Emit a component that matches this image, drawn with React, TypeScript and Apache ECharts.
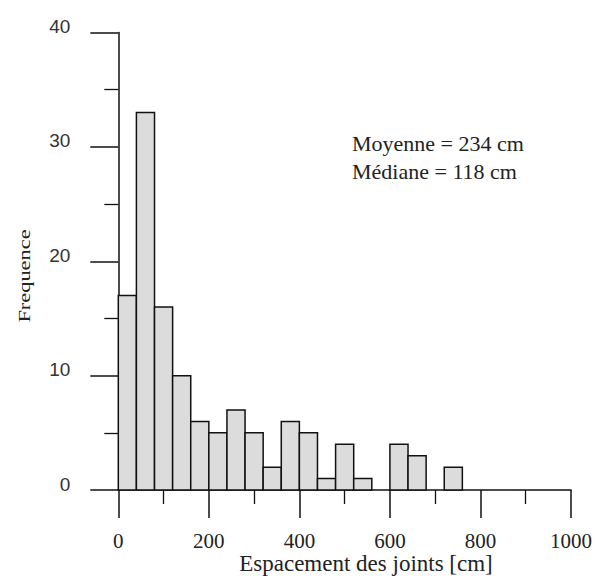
import React, { useEffect, useRef } from "react";
import * as echarts from "echarts";

const binStarts = [0, 40, 80, 120, 160, 200, 240, 280, 320, 360, 400, 440, 480, 520, 560, 600, 640, 680, 720];
const counts = [17, 33, 16, 10, 6, 5, 7, 5, 2, 6, 5, 1, 4, 1, 0, 4, 3, 0, 2];
const binWidth = 40;
const xTicks = [0, 200, 400, 600, 800, 1000];
const yTicks = [0, 10, 20, 30, 40];
const annotations = ["Moyenne = 234 cm", "Médiane = 118 cm"];
const xName = "Espacement des joints [cm]";
const yName = "Frequence";

export default function App() {
  const ref = useRef<HTMLDivElement>(null);
  useEffect(() => {
    if (!ref.current) return;
    const chart = echarts.init(ref.current, undefined, { renderer: "svg" });
    const data = binStarts
      .map((s, i) => [s, s + binWidth, counts[i]])
      .filter((d) => d[2] > 0);
    const serif = "'Liberation Serif', 'Times New Roman', serif";
    const sans = "'Liberation Sans', Arial, sans-serif";
    chart.setOption({
      animation: false,
      backgroundColor: "#ffffff",
      grid: { left: 118.3, right: 23.5, top: 32.5, bottom: 91, containLabel: false },
      xAxis: {
        type: "value",
        min: xTicks[0],
        max: xTicks[xTicks.length - 1],
        interval: 200,
        axisLine: { show: true, onZero: false, lineStyle: { color: "#111", width: 1.5 } },
        axisTick: { show: true, length: 28, lineStyle: { color: "#111", width: 1.5 } },
        minorTick: { show: true, splitNumber: 2, length: 14, lineStyle: { color: "#111", width: 1.3 } },
        splitLine: { show: false },
        axisLabel: {
          margin: 40,
          fontFamily: serif,
          fontSize: 21,
          color: "#222",
          formatter: (v: number) => String(v),
        },
      },
      yAxis: {
        type: "value",
        min: yTicks[0],
        max: yTicks[yTicks.length - 1],
        interval: 10,
        axisLine: { show: true, lineStyle: { color: "#111", width: 1.5 } },
        axisTick: { show: true, length: 28, lineStyle: { color: "#111", width: 1.5 } },
        minorTick: { show: true, splitNumber: 2, length: 14, lineStyle: { color: "#111", width: 1.3 } },
        splitLine: { show: false },
        axisLabel: {
          margin: 48,
          fontFamily: sans,
          fontSize: 19,
          color: "#333",
          verticalAlign: "bottom",
          lineHeight: 12,
          formatter: (v: number) => String(v),
        },
      },
      series: [
        {
          type: "custom",
          data,
          encode: { x: [0, 1], y: 2 },
          renderItem: (params: any, api: any) => {
            const x0 = api.value(0);
            const x1 = api.value(1);
            const y = api.value(2);
            const p0 = api.coord([x0, y]);
            const p1 = api.coord([x1, 0]);
            return {
              type: "rect",
              shape: { x: p0[0], y: p0[1], width: p1[0] - p0[0], height: p1[1] - p0[1] },
              style: { fill: "#dcdcdc", stroke: "#111", lineWidth: 1.5 },
            };
          },
        },
      ],
      graphic: [
        {
          type: "text",
          left: 352,
          top: 129,
          style: {
            text: annotations.join("\n"),
            fontFamily: serif,
            fontSize: 22,
            lineHeight: 28,
            fill: "#222",
          },
        },
        {
          type: "text",
          x: 366,
          y: 563,
          style: {
            text: xName,
            fontFamily: serif,
            fontSize: 23,
            fill: "#222",
            align: "center",
            verticalAlign: "middle",
          },
        },
        {
          type: "text",
          x: 25,
          y: 276,
          rotation: Math.PI / 2,
          scaleX: 1.4,
          style: {
            text: yName,
            fontFamily: serif,
            fontSize: 16,
            fill: "#222",
            align: "center",
            verticalAlign: "middle",
          },
        },
      ],
    });
    return () => chart.dispose();
  }, []);
  return (
    <div
      ref={ref}
      style={{ position: "fixed", left: 0, top: 0, width: 595, height: 581, background: "#fff" }}
    />
  );
}
